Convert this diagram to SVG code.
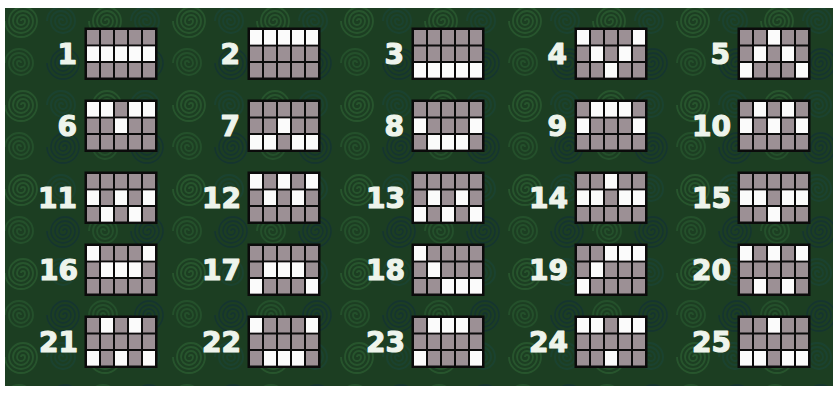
<svg xmlns="http://www.w3.org/2000/svg" xmlns:xlink="http://www.w3.org/1999/xlink" width="839" height="393" viewBox="0 0 839 393">
<style>
.n{font-family:"DejaVu Sans",sans-serif;font-weight:bold;font-size:28px;fill:#eef4ec;stroke:#eef4ec;stroke-width:1.2;stroke-linejoin:round;text-anchor:end}
.g{fill:#9c9095}
.w{fill:#fbfbfb}
.sw{fill:none;stroke-width:1.8}
</style>
<defs>
<pattern id="bg" width="84" height="84" patternUnits="userSpaceOnUse">
<rect width="84" height="84" fill="#1c3e22"/>
<path class="sw" stroke="#27552d" d="M21,21 a2,2 0 0 1 4,0 a4,4 0 0 1 -8,0 a6,6 0 0 1 12,0 a8,8 0 0 1 -16,0 a10,10 0 0 1 20,0 a12,12 0 0 1 -24,0 a14,14 0 0 1 28,0 a16,16 0 0 1 -32,0"/>
<path class="sw" stroke="#15352e" d="M63,63 a2,2 0 0 1 4,0 a4,4 0 0 1 -8,0 a6,6 0 0 1 12,0 a8,8 0 0 1 -16,0 a10,10 0 0 1 20,0 a12,12 0 0 1 -24,0 a14,14 0 0 1 28,0 a16,16 0 0 1 -32,0"/>
<path class="sw" stroke="#1a4230" d="M63,21 a2,2 0 0 0 -4,0 a4,4 0 0 0 8,0 a6,6 0 0 0 -12,0 a8,8 0 0 0 16,0 a10,10 0 0 0 -20,0 a12,12 0 0 0 24,0 a14,14 0 0 0 -28,0"/>
<path class="sw" stroke="#24502b" d="M21,63 a2,2 0 0 0 -4,0 a4,4 0 0 0 8,0 a6,6 0 0 0 -12,0 a8,8 0 0 0 16,0 a10,10 0 0 0 -20,0 a12,12 0 0 0 24,0 a14,14 0 0 0 -28,0"/>
</pattern>
<g id="grid">
<rect x="-0.5" y="-0.5" width="73" height="52.5" fill="#0b0b0b"/>
<rect class="g" x="2" y="2" width="12" height="14.5"/><rect class="g" x="16" y="2" width="12" height="14.5"/><rect class="g" x="30" y="2" width="12" height="14.5"/><rect class="g" x="44" y="2" width="12" height="14.5"/><rect class="g" x="58" y="2" width="12" height="14.5"/>
<rect class="g" x="2" y="18.5" width="12" height="14.5"/><rect class="g" x="16" y="18.5" width="12" height="14.5"/><rect class="g" x="30" y="18.5" width="12" height="14.5"/><rect class="g" x="44" y="18.5" width="12" height="14.5"/><rect class="g" x="58" y="18.5" width="12" height="14.5"/>
<rect class="g" x="2" y="35" width="12" height="14.5"/><rect class="g" x="16" y="35" width="12" height="14.5"/><rect class="g" x="30" y="35" width="12" height="14.5"/><rect class="g" x="44" y="35" width="12" height="14.5"/><rect class="g" x="58" y="35" width="12" height="14.5"/>
</g>
<rect id="wc" class="w" width="12" height="14.5"/>
</defs>
<rect width="839" height="393" fill="#ffffff"/>
<rect x="5" y="8" width="828" height="378" fill="url(#bg)"/>

<g id="payline-1" transform="translate(85,28)"><use href="#grid"/><text class="n" x="-8" y="35.5">1</text>
<use href="#wc" x="2" y="18.5"/><use href="#wc" x="16" y="18.5"/><use href="#wc" x="30" y="18.5"/><use href="#wc" x="44" y="18.5"/><use href="#wc" x="58" y="18.5"/></g>
<g id="payline-2" transform="translate(248,28)"><use href="#grid"/><text class="n" x="-8" y="35.5">2</text>
<use href="#wc" x="2" y="2"/><use href="#wc" x="16" y="2"/><use href="#wc" x="30" y="2"/><use href="#wc" x="44" y="2"/><use href="#wc" x="58" y="2"/></g>
<g id="payline-3" transform="translate(412,28)"><use href="#grid"/><text class="n" x="-8" y="35.5">3</text>
<use href="#wc" x="2" y="35"/><use href="#wc" x="16" y="35"/><use href="#wc" x="30" y="35"/><use href="#wc" x="44" y="35"/><use href="#wc" x="58" y="35"/></g>
<g id="payline-4" transform="translate(575,28)"><use href="#grid"/><text class="n" x="-8" y="35.5">4</text>
<use href="#wc" x="2" y="2"/><use href="#wc" x="16" y="18.5"/><use href="#wc" x="30" y="35"/><use href="#wc" x="44" y="18.5"/><use href="#wc" x="58" y="2"/></g>
<g id="payline-5" transform="translate(738,28)"><use href="#grid"/><text class="n" x="-8" y="35.5">5</text>
<use href="#wc" x="2" y="35"/><use href="#wc" x="16" y="18.5"/><use href="#wc" x="30" y="2"/><use href="#wc" x="44" y="18.5"/><use href="#wc" x="58" y="35"/></g>

<g id="payline-6" transform="translate(85,100)"><use href="#grid"/><text class="n" x="-8" y="35.5">6</text>
<use href="#wc" x="2" y="2"/><use href="#wc" x="16" y="2"/><use href="#wc" x="30" y="18.5"/><use href="#wc" x="44" y="2"/><use href="#wc" x="58" y="2"/></g>
<g id="payline-7" transform="translate(248,100)"><use href="#grid"/><text class="n" x="-8" y="35.5">7</text>
<use href="#wc" x="2" y="35"/><use href="#wc" x="16" y="35"/><use href="#wc" x="30" y="18.5"/><use href="#wc" x="44" y="35"/><use href="#wc" x="58" y="35"/></g>
<g id="payline-8" transform="translate(412,100)"><use href="#grid"/><text class="n" x="-8" y="35.5">8</text>
<use href="#wc" x="2" y="18.5"/><use href="#wc" x="16" y="35"/><use href="#wc" x="30" y="35"/><use href="#wc" x="44" y="35"/><use href="#wc" x="58" y="18.5"/></g>
<g id="payline-9" transform="translate(575,100)"><use href="#grid"/><text class="n" x="-8" y="35.5">9</text>
<use href="#wc" x="2" y="18.5"/><use href="#wc" x="16" y="2"/><use href="#wc" x="30" y="2"/><use href="#wc" x="44" y="2"/><use href="#wc" x="58" y="18.5"/></g>
<g id="payline-10" transform="translate(738,100)"><use href="#grid"/><text class="n" x="-7" y="35.5">10</text>
<use href="#wc" x="2" y="18.5"/><use href="#wc" x="16" y="2"/><use href="#wc" x="30" y="18.5"/><use href="#wc" x="44" y="2"/><use href="#wc" x="58" y="18.5"/></g>

<g id="payline-11" transform="translate(85,172)"><use href="#grid"/><text class="n" x="-8" y="35.5">11</text>
<use href="#wc" x="2" y="18.5"/><use href="#wc" x="16" y="35"/><use href="#wc" x="30" y="18.5"/><use href="#wc" x="44" y="35"/><use href="#wc" x="58" y="18.5"/></g>
<g id="payline-12" transform="translate(248,172)"><use href="#grid"/><text class="n" x="-7" y="35.5">12</text>
<use href="#wc" x="2" y="2"/><use href="#wc" x="16" y="18.5"/><use href="#wc" x="30" y="2"/><use href="#wc" x="44" y="18.5"/><use href="#wc" x="58" y="2"/></g>
<g id="payline-13" transform="translate(412,172)"><use href="#grid"/><text class="n" x="-7" y="35.5">13</text>
<use href="#wc" x="2" y="35"/><use href="#wc" x="16" y="18.5"/><use href="#wc" x="30" y="35"/><use href="#wc" x="44" y="18.5"/><use href="#wc" x="58" y="35"/></g>
<g id="payline-14" transform="translate(575,172)"><use href="#grid"/><text class="n" x="-7" y="35.5">14</text>
<use href="#wc" x="2" y="18.5"/><use href="#wc" x="16" y="18.5"/><use href="#wc" x="30" y="2"/><use href="#wc" x="44" y="18.5"/><use href="#wc" x="58" y="18.5"/></g>
<g id="payline-15" transform="translate(738,172)"><use href="#grid"/><text class="n" x="-7" y="35.5">15</text>
<use href="#wc" x="2" y="18.5"/><use href="#wc" x="16" y="18.5"/><use href="#wc" x="30" y="35"/><use href="#wc" x="44" y="18.5"/><use href="#wc" x="58" y="18.5"/></g>

<g id="payline-16" transform="translate(85,244)"><use href="#grid"/><text class="n" x="-7" y="35.5">16</text>
<use href="#wc" x="2" y="2"/><use href="#wc" x="16" y="18.5"/><use href="#wc" x="30" y="18.5"/><use href="#wc" x="44" y="18.5"/><use href="#wc" x="58" y="2"/></g>
<g id="payline-17" transform="translate(248,244)"><use href="#grid"/><text class="n" x="-7" y="35.5">17</text>
<use href="#wc" x="2" y="35"/><use href="#wc" x="16" y="18.5"/><use href="#wc" x="30" y="18.5"/><use href="#wc" x="44" y="18.5"/><use href="#wc" x="58" y="35"/></g>
<g id="payline-18" transform="translate(412,244)"><use href="#grid"/><text class="n" x="-7" y="35.5">18</text>
<use href="#wc" x="2" y="2"/><use href="#wc" x="16" y="18.5"/><use href="#wc" x="30" y="35"/><use href="#wc" x="44" y="35"/><use href="#wc" x="58" y="35"/></g>
<g id="payline-19" transform="translate(575,244)"><use href="#grid"/><text class="n" x="-7" y="35.5">19</text>
<use href="#wc" x="2" y="35"/><use href="#wc" x="16" y="18.5"/><use href="#wc" x="30" y="2"/><use href="#wc" x="44" y="2"/><use href="#wc" x="58" y="2"/></g>
<g id="payline-20" transform="translate(738,244)"><use href="#grid"/><text class="n" x="-7" y="35.5">20</text>
<use href="#wc" x="2" y="2"/><use href="#wc" x="16" y="35"/><use href="#wc" x="30" y="2"/><use href="#wc" x="44" y="35"/><use href="#wc" x="58" y="2"/></g>

<g id="payline-21" transform="translate(85,316)"><use href="#grid"/><text class="n" x="-7" y="35.5">21</text>
<use href="#wc" x="2" y="35"/><use href="#wc" x="16" y="2"/><use href="#wc" x="30" y="35"/><use href="#wc" x="44" y="2"/><use href="#wc" x="58" y="35"/></g>
<g id="payline-22" transform="translate(248,316)"><use href="#grid"/><text class="n" x="-7" y="35.5">22</text>
<use href="#wc" x="2" y="2"/><use href="#wc" x="16" y="35"/><use href="#wc" x="30" y="35"/><use href="#wc" x="44" y="35"/><use href="#wc" x="58" y="2"/></g>
<g id="payline-23" transform="translate(412,316)"><use href="#grid"/><text class="n" x="-7" y="35.5">23</text>
<use href="#wc" x="2" y="35"/><use href="#wc" x="16" y="2"/><use href="#wc" x="30" y="2"/><use href="#wc" x="44" y="2"/><use href="#wc" x="58" y="35"/></g>
<g id="payline-24" transform="translate(575,316)"><use href="#grid"/><text class="n" x="-7" y="35.5">24</text>
<use href="#wc" x="2" y="2"/><use href="#wc" x="16" y="2"/><use href="#wc" x="30" y="35"/><use href="#wc" x="44" y="2"/><use href="#wc" x="58" y="2"/></g>
<g id="payline-25" transform="translate(738,316)"><use href="#grid"/><text class="n" x="-7" y="35.5">25</text>
<use href="#wc" x="2" y="35"/><use href="#wc" x="16" y="35"/><use href="#wc" x="30" y="2"/><use href="#wc" x="44" y="35"/><use href="#wc" x="58" y="35"/></g>
</svg>
